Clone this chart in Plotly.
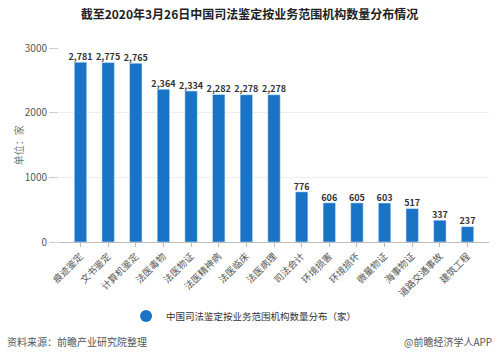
import plotly.graph_objects as go

categories = ["痕迹鉴定", "文书鉴定", "计算机鉴定", "法医毒物", "法医物证", "法医精神病", "法医临床",
              "法医病理", "司法会计", "环境损害", "环境损坏", "微量物证", "海事物证", "道路交通事故", "建筑工程"]
values = [2781, 2775, 2765, 2364, 2334, 2282, 2278, 2278, 776, 606, 605, 603, 517, 337, 237]
series_name = "中国司法鉴定按业务范围机构数量分布（家）"
y_ticks = [0, 1000, 2000, 3000]

FONT = "Noto Sans CJK SC"
BLUE = "#1a74c6"

fig = go.Figure()
fig.add_trace(go.Bar(
    x=categories, y=values, marker_color=BLUE, showlegend=False,
))
fig.add_trace(go.Scatter(
    x=categories, y=values, mode="text", showlegend=False,
    text=[f"<b>{v:,}</b>" for v in values], textposition="top center",
    textfont=dict(family=FONT, size=9, color="#333333"),
    cliponaxis=False, hoverinfo="skip",
))
fig.add_trace(go.Scatter(
    x=[None], y=[None], mode="markers", name=series_name,
    marker=dict(symbol="circle", size=12, color=BLUE),
))

fig.update_layout(
    width=499, height=359,
    margin=dict(l=59, r=10, t=48, b=117, autoexpand=False),
    paper_bgcolor="white", plot_bgcolor="white",
    bargap=0.55,
    font=dict(family=FONT, color="#555555"),
    title=dict(text="<b>截至2020年3月26日中国司法鉴定按业务范围机构数量分布情况</b>",
               x=0.5, xanchor="center", y=0.958, yanchor="middle",
               font=dict(family=FONT, size=12, color="#222222")),
    showlegend=True,
    legend=dict(orientation="h", x=0.156, xanchor="left", y=-0.381, yanchor="middle",
                font=dict(family=FONT, size=9.5, color="#333333"),
                itemsizing="constant", itemwidth=30),
    xaxis=dict(tickangle=-45, tickfont=dict(family=FONT, size=9.5, color="#555555"),
               showline=True, linecolor="#bbbbbb", ticks="outside", tickcolor="#bbbbbb", ticklen=4,
               showgrid=False, automargin=False),
    yaxis=dict(range=[0, 3000], tickvals=y_ticks, tickfont=dict(family=FONT, size=10, color="#555555"),
               showgrid=True, gridcolor="#eeeeee", zeroline=False, automargin=False,
               ticks="outside", ticklen=9, tickcolor="#cccccc"),
)

fig.add_annotation(text="单位：家", xref="paper", yref="paper", x=-0.095, y=0.5,
                   xanchor="center", yanchor="middle", textangle=-90, showarrow=False,
                   font=dict(family=FONT, size=10, color="#777777"))
fig.add_annotation(text="资料来源：前瞻产业研究院整理", xref="paper", yref="paper",
                   x=-0.126, y=-0.515, xanchor="left", yanchor="middle", showarrow=False,
                   font=dict(family=FONT, size=10, color="#555555"))
fig.add_annotation(text="@前瞻经济学人APP", xref="paper", yref="paper",
                   x=1.012, y=-0.515, xanchor="right", yanchor="middle", showarrow=False,
                   font=dict(family=FONT, size=10, color="#555555"))

fig.write_html("out.html", config={"displayModeBar": False},
               post_script="document.body.style.margin='0';")
